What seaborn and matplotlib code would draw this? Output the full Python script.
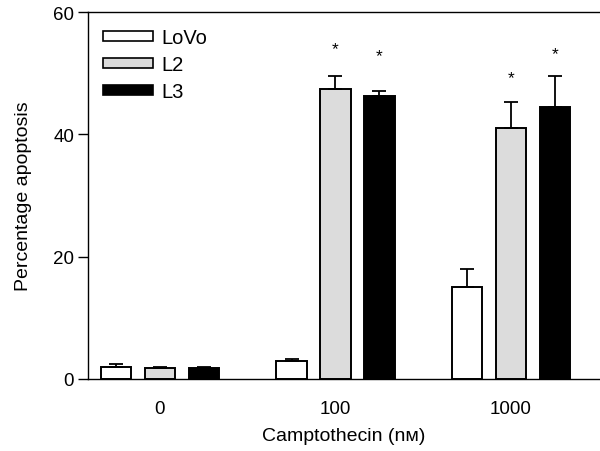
import numpy as np
import pandas as pd
import seaborn as sns
import matplotlib.pyplot as plt
from matplotlib.patches import Patch

doses = ['0', '100', '1000']
lines = ['LoVo', 'L2', 'L3']
lovo_mean = [2.0, 2.9, 15.1]
lovo_err = [0.4, 0.3, 2.9]
l2_mean = [1.75, 47.4, 41.1]
l2_err = [0.15, 2.2, 4.2]
l3_mean = [1.8, 46.2, 44.5]
l3_err = [0.2, 0.9, 5.1]
# asterisk heights (P < 0.05), None = no mark
l2_star = [None, 54.5, 49.7]
l3_star = [None, 53.3, 53.7]
colors = ['white', '#dcdcdc', 'black']

sns.set_style('ticks')
plt.rcParams['font.family'] = ['Liberation Sans', 'DejaVu Sans']
plt.rcParams['text.color'] = 'black'
plt.rcParams['axes.labelcolor'] = 'black'
plt.rcParams['xtick.color'] = 'black'
plt.rcParams['ytick.color'] = 'black'

means = [lovo_mean, l2_mean, l3_mean]
errs = [lovo_err, l2_err, l3_err]
stars = [[None] * 3, l2_star, l3_star]
df = pd.DataFrame({
    'dose': doses * 3,
    'line': np.repeat(lines, 3),
    'value': np.concatenate(means),
})

fig = plt.figure(figsize=(6, 4.52), dpi=100)
ax = fig.add_axes([0.1467, 0.1593, 0.8533, 0.8119])

sns.barplot(data=df, x='dose', y='value', hue='line', order=doses, hue_order=lines,
            palette=colors, width=0.75, gap=0.31, edgecolor='black', linewidth=1.4,
            errorbar=None, legend=False, ax=ax)

# error bars (upper only) and asterisks at the bar centres seaborn placed
for k, name in enumerate(lines):
    cont = ax.containers[k]
    xs = [p.get_x() + p.get_width() / 2 for p in cont.patches]
    ax.errorbar(xs, means[k], yerr=[np.zeros(3), errs[k]], fmt='none',
                ecolor='black', elinewidth=1.3, capsize=4.7, capthick=1.3, zorder=1)
    for j, s in enumerate(stars[k]):
        if s is not None:
            ax.text(xs[j], s - 1.2, '*', ha='center', va='baseline', fontsize=12.5)

ax.set_ylim(0, 60)
ax.set_yticks([0, 20, 40, 60])
ax.set_xlim(-0.41, 2.507)
ax.tick_params(axis='y', labelsize=13.5, length=7, width=1, direction='out', pad=3)
ax.tick_params(axis='x', labelsize=13.5, length=0, pad=15)
ax.set_xlabel('Camptothecin (nᴍ)', fontsize=14, labelpad=7)
ax.set_ylabel('Percentage apoptosis', fontsize=14, labelpad=15.5)
for side in ['left', 'bottom', 'top']:
    ax.spines[side].set_linewidth(1)
    ax.spines[side].set_color('black')
ax.spines['right'].set_visible(False)

handles = [Patch(facecolor=c, edgecolor='black', linewidth=1.2) for c in colors]
ax.legend(handles, lines, loc='upper left', frameon=False, fontsize=14.5,
          handlelength=2.5, handleheight=0.4, labelspacing=0.4, handletextpad=0.4,
          borderaxespad=0, borderpad=0, bbox_to_anchor=(0.029, 0.957))

fig.savefig('out.png', dpi=100)
